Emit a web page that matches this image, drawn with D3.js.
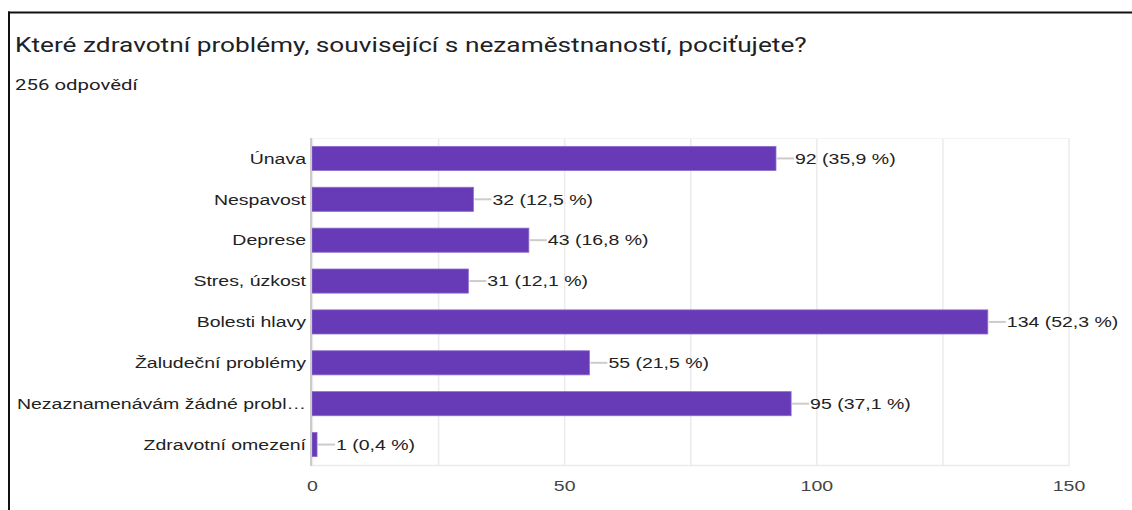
<!DOCTYPE html>
<html><head><meta charset="utf-8">
<script src="https://cdn.jsdelivr.net/npm/d3@7"></script>
<style>
html,body{margin:0;padding:0;background:#fff;}
svg{display:block;}
</style></head>
<body>
<svg id="chart" width="1132" height="510"></svg>
<script>
const title = "Které zdravotní problémy, související s nezaměstnaností, pociťujete?";
const subtitle = "256 odpovědí";
const categories = ["Únava","Nespavost","Deprese","Stres, úzkost","Bolesti hlavy","Žaludeční problémy","Nezaznamenávám žádné probl…","Zdravotní omezení"];
const counts = [92,32,43,31,134,55,95,1];
const percents = ["35,9","12,5","16,8","12,1","52,3","21,5","37,1","0,4"];
const tickValues = [0,50,100,150];
const gridValues = [0,25,50,75,100,125,150];

const svg = d3.select("#chart");
const SX = 1.3;
const labelFont = "Arial, 'Liberation Sans', sans-serif";

function stext(g, x, y, s, str, size, fill, family, anchor) {
  return g.append("text")
    .attr("transform", `translate(${x},${y}) scale(${s},1)`)
    .attr("x",0).attr("y",0)
    .attr("font-family", family).attr("font-size", size).attr("fill", fill)
    .attr("text-anchor", anchor || "start")
    .text(str);
}

// frame lines (top & left)
svg.append("line").attr("x1",8).attr("x2",1132).attr("y1",12.5).attr("y2",12.5).attr("stroke","#111").attr("stroke-width",2);
svg.append("line").attr("x1",9).attr("x2",9).attr("y1",11.5).attr("y2",510).attr("stroke","#111").attr("stroke-width",2);

stext(svg, 15, 52, 1.25, title, 21, "#202124", "Roboto, Arial, sans-serif");
stext(svg, 15, 90, 1.36, subtitle, 15, "#202124", "Roboto, Arial, sans-serif");

const x = d3.scaleLinear().domain([0,150]).range([312,1068.5]);
const y = d3.scaleBand().domain(categories).range([138,465]).paddingInner(0.41).paddingOuter(0.205);

// grid
svg.append("g").selectAll("line").data(gridValues).join("line")
  .attr("x1",d=>x(d)+0.5).attr("x2",d=>x(d)+0.5).attr("y1",138).attr("y2",465)
  .attr("stroke","#ebebeb").attr("stroke-width",1.5);
svg.append("line").attr("x1",312).attr("x2",x(150)+1).attr("y1",465.5).attr("y2",465.5).attr("stroke","#ebebeb").attr("stroke-width",1.5);
svg.append("line").attr("x1",312).attr("x2",x(150)+1).attr("y1",138.5).attr("y2",138.5).attr("stroke","#f3f3f3").attr("stroke-width",1);

// bars
svg.append("g").selectAll("rect").data(categories).join("rect")
  .attr("x",x(0)).attr("y",d=>y(d))
  .attr("width",(d,i)=>Math.max(1.5,x(counts[i])-x(0)))
  .attr("height",y.bandwidth())
  .attr("fill","#673ab7").attr("stroke","#8f6ccc").attr("stroke-width",0.8);

// zero axis line
svg.append("line").attr("x1",311).attr("x2",311).attr("y1",138).attr("y2",466).attr("stroke","#cccccc").attr("stroke-width",2);

// connectors and labels
const lab = svg.append("g");
categories.forEach((c,i)=>{
  const xe = x(counts[i]) + 1;
  const yc = y(c) + y.bandwidth()/2;
  lab.append("line").attr("x1",xe).attr("x2",xe+17).attr("y1",yc).attr("y2",yc).attr("stroke","#cccccc").attr("stroke-width",2);
  stext(lab, xe+18, yc+5.3, SX, `${counts[i]} (${percents[i]} %)`, 15, "#222", labelFont);
});

// category axis labels
const cg = svg.append("g");
categories.forEach(c=>{
  stext(cg, 306, y(c)+y.bandwidth()/2+5.3, SX, c, 15, "#222", labelFont, "end");
});

// x axis ticks
const xAxis = d3.axisBottom(x).tickValues(tickValues).tickSize(0).tickPadding(15);
const ga = svg.append("g").attr("transform","translate(0,465)").call(xAxis);
ga.select(".domain").remove();
ga.selectAll("text").attr("font-family",labelFont).attr("font-size",15).attr("fill","#444")
  .attr("transform",`scale(${SX},1)`).attr("x",0);
</script>
</body></html>
